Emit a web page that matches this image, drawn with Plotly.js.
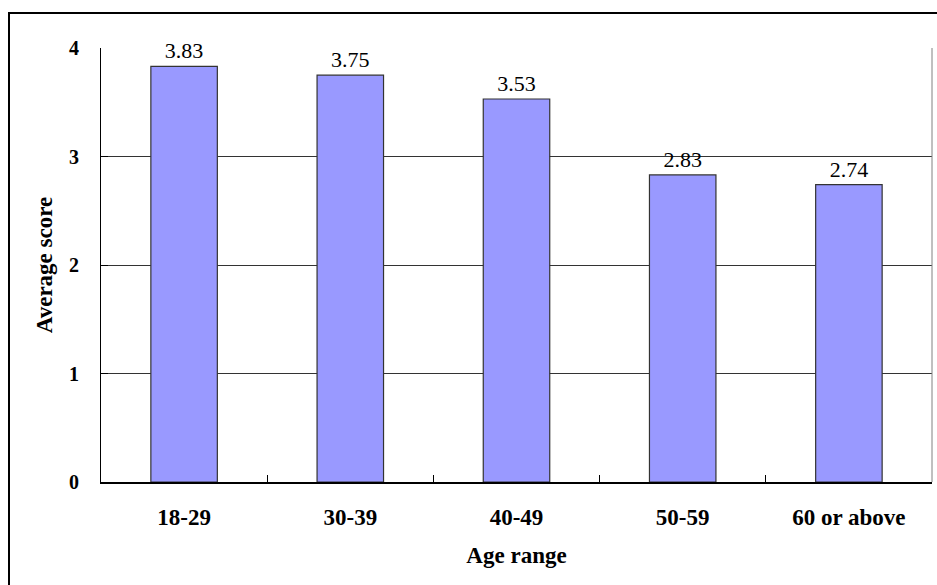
<!DOCTYPE html>
<html>
<head>
<meta charset="utf-8">
<script src="https://cdn.plot.ly/plotly-3.0.1.min.js"></script>
<style>
  html, body { margin: 0; padding: 0; background: #fff; overflow: hidden; }
  #wrap { position: relative; width: 937px; height: 585px; }
  #chart { width: 937px; height: 585px; }
  /* outer chart frame, continuing past the right and bottom edges */
  #frame { position: absolute; left: 8px; top: 12px; width: 1200px; height: 900px;
           border-left: 2px solid #000; border-top: 2px solid #000; pointer-events: none; }
</style>
</head>
<body>
<div id="wrap">
  <div id="chart"></div>
  <div id="frame"></div>
</div>
<script>
// Average score by age range
const ageRanges = ['18-29', '30-39', '40-49', '50-59', '60 or above'];
const averageScores = [3.83, 3.75, 3.53, 2.83, 2.74];
const yTicks = [0, 1, 2, 3, 4];

const serif = '"Liberation Serif", "Times New Roman", serif';

const trace = {
  type: 'bar',
  x: ageRanges,
  y: averageScores,
  marker: { color: '#9999FF', line: { color: '#333333', width: 1.2 } },
  text: averageScores.map(v => v.toFixed(2)),
  textposition: 'outside',
  cliponaxis: false,
  textfont: { family: serif, size: 22, color: '#000' },
  hoverinfo: 'x+y'
};

const layout = {
  width: 937,
  height: 585,
  margin: { l: 101, r: 5, t: 48, b: 103 },
  paper_bgcolor: '#fff',
  plot_bgcolor: '#fff',
  showlegend: false,
  bargap: 0.6,
  font: { family: serif, color: '#000' },
  xaxis: {
    type: 'category',
    categoryarray: ageRanges,
    tickson: 'boundaries',
    ticks: 'inside',
    ticklen: 7,
    tickwidth: 1,
    tickcolor: '#000',
    showline: true,
    linecolor: '#000',
    linewidth: 2,
    showgrid: false,
    zeroline: false,
    tickfont: { family: serif, size: 23, weight: 'bold', color: '#000' },
    ticklabelstandoff: 13,
    title: { text: 'Age range', font: { family: serif, size: 23, weight: 'bold', color: '#000' }, standoff: 18 },
    automargin: false
  },
  yaxis: {
    range: [0, 4],
    tickvals: yTicks,
    ticktext: yTicks.map(String),
    ticks: 'inside',
    ticklen: 7,
    tickwidth: 1,
    tickcolor: '#000',
    showline: true,
    linecolor: '#000',
    linewidth: 1,
    showgrid: true,
    gridcolor: '#333333',
    gridwidth: 1,
    zeroline: false,
    tickfont: { family: serif, size: 20, weight: 'bold', color: '#000' },
    ticklabelstandoff: 17,
    title: { text: 'Average score', font: { family: serif, size: 23, weight: 'bold', color: '#000' }, standoff: 9 },
    automargin: false
  },
  shapes: [
    // plot area border on the right side
    { type: 'line', xref: 'paper', yref: 'paper', x0: 1, x1: 1, y0: 0, y1: 1,
      line: { color: '#808080', width: 1 } }
  ]
};

Plotly.newPlot('chart', [trace], layout, { displayModeBar: false, staticPlot: true });
</script>
</body>
</html>
